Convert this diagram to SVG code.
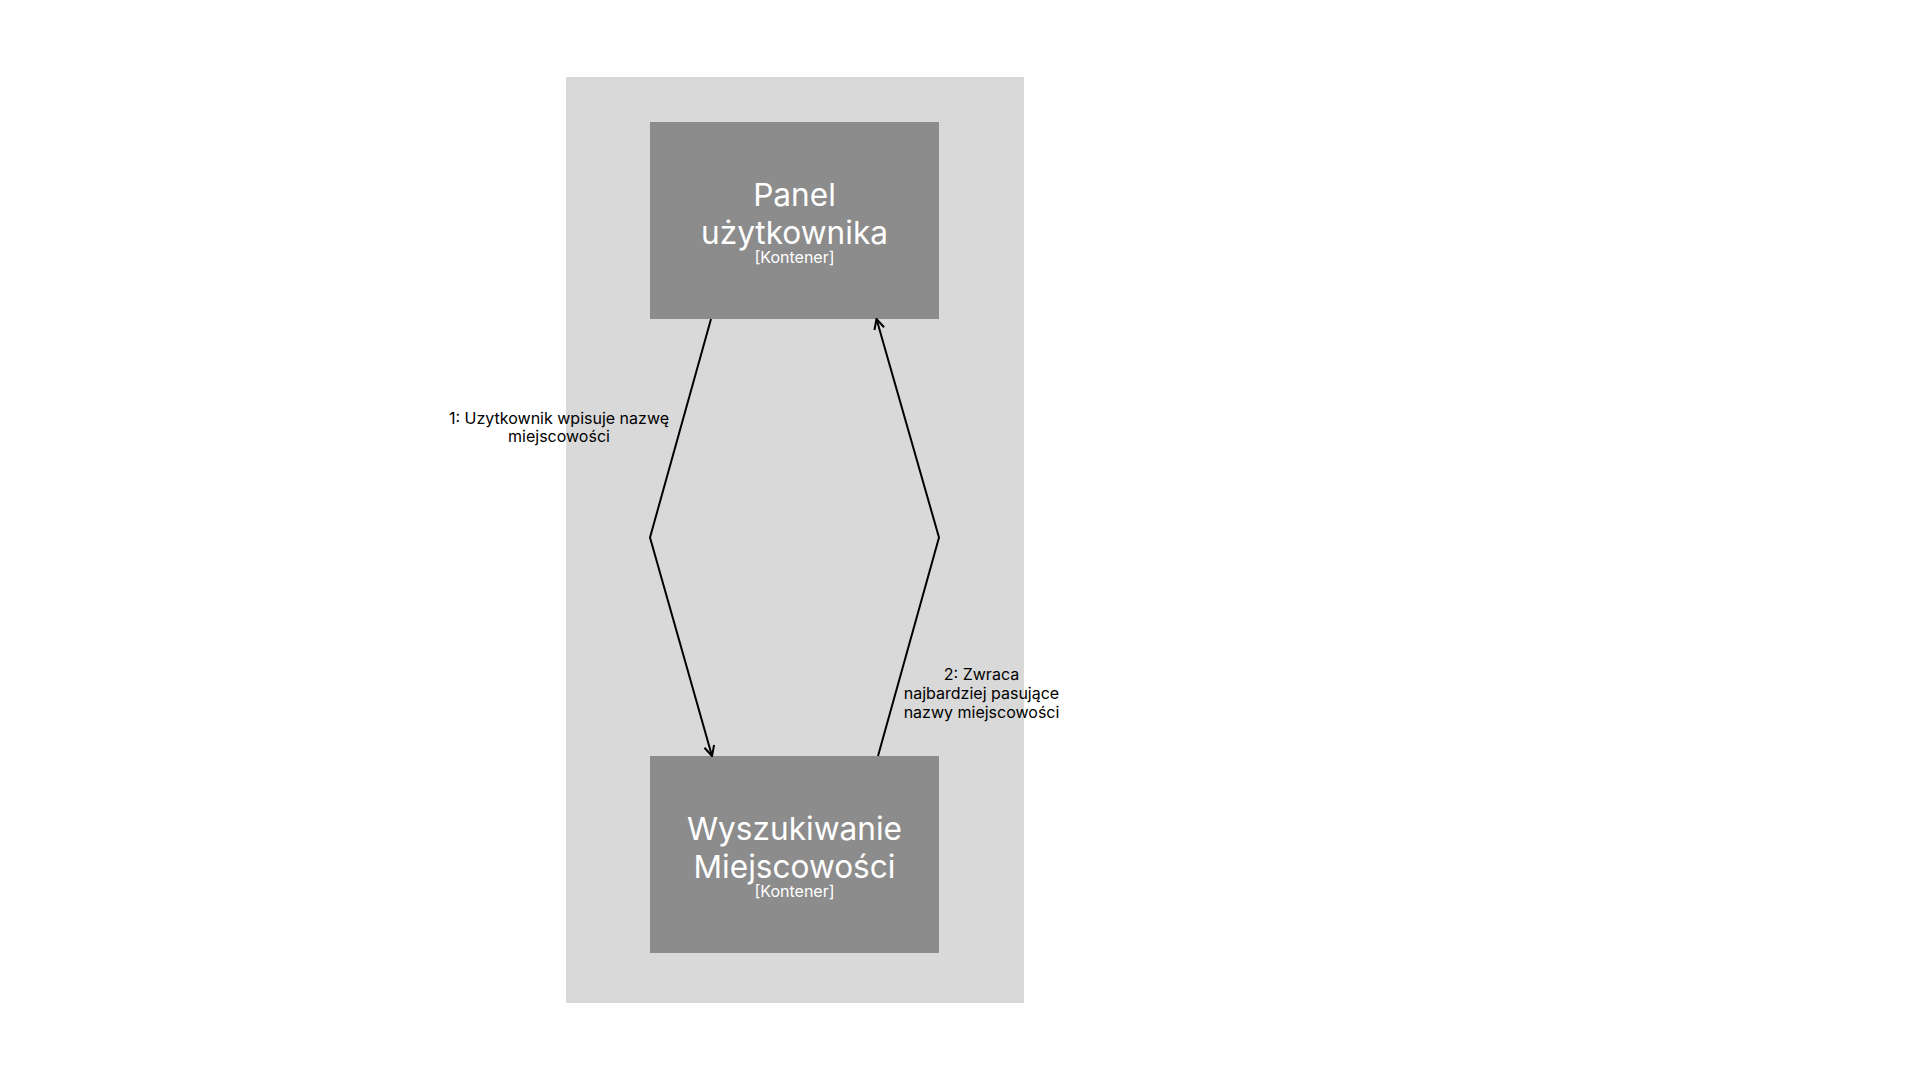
<svg xmlns="http://www.w3.org/2000/svg" width="1920" height="1080" viewBox="0 0 1920 1080">
<style>
.bg{fill:#ffffff}
.boundary{fill:#d9d9d9}
.node rect{fill:#8c8c8c}
.title{font-family:Inter,"Liberation Sans",sans-serif;font-size:31.6px;fill:#ffffff;text-anchor:middle}
.type{font-family:Inter,"Liberation Sans",sans-serif;font-size:16px;fill:#ffffff;text-anchor:middle}
.edge{fill:none;stroke:#000000;stroke-width:2;marker-end:url(#arrow)}
.lbl{font-family:Inter,"Liberation Sans",sans-serif;font-size:16px;fill:#000000;text-anchor:middle}
</style>
<defs>
<marker id="arrow" viewBox="0 0 12 12" refX="11" refY="6" markerWidth="12" markerHeight="12" markerUnits="userSpaceOnUse" orient="auto">
<path d="M1,1 L11,6 L1,11" fill="none" stroke="#000000" stroke-width="2"/>
</marker>
</defs>
<rect class="bg" x="0" y="0" width="1920" height="1080"/>
<g id="boundary"><rect class="boundary" x="566" y="77" width="458" height="926"/></g>
<g id="panel-uzytkownika" class="node">
<rect x="650" y="122" width="289" height="197"/>
<text class="title" x="794.5" y="205.5">Panel</text>
<text class="title" x="794.5" y="244">użytkownika</text>
<text class="type" x="794.5" y="263">[Kontener]</text>
</g>
<g id="wyszukiwanie-miejscowosci" class="node">
<rect x="650" y="756" width="289" height="197"/>
<text class="title" x="794.5" y="839.5">Wyszukiwanie</text>
<text class="title" x="794.5" y="878">Miejscowości</text>
<text class="type" x="794.5" y="897">[Kontener]</text>
</g>
<g id="connectors">
<polyline class="edge" points="711,319 650,537.5 712,756"/>
<polyline class="edge" points="878,756 939,537.5 876.5,319"/>
<text class="lbl" x="559" y="424">1: Uzytkownik wpisuje nazwę</text>
<text class="lbl" x="559" y="442">miejscowości</text>
<text class="lbl" x="981.5" y="680">2: Zwraca</text>
<text class="lbl" x="981.5" y="699">najbardziej pasujące</text>
<text class="lbl" x="981.5" y="718">nazwy miejscowości</text>
</g>
</svg>
